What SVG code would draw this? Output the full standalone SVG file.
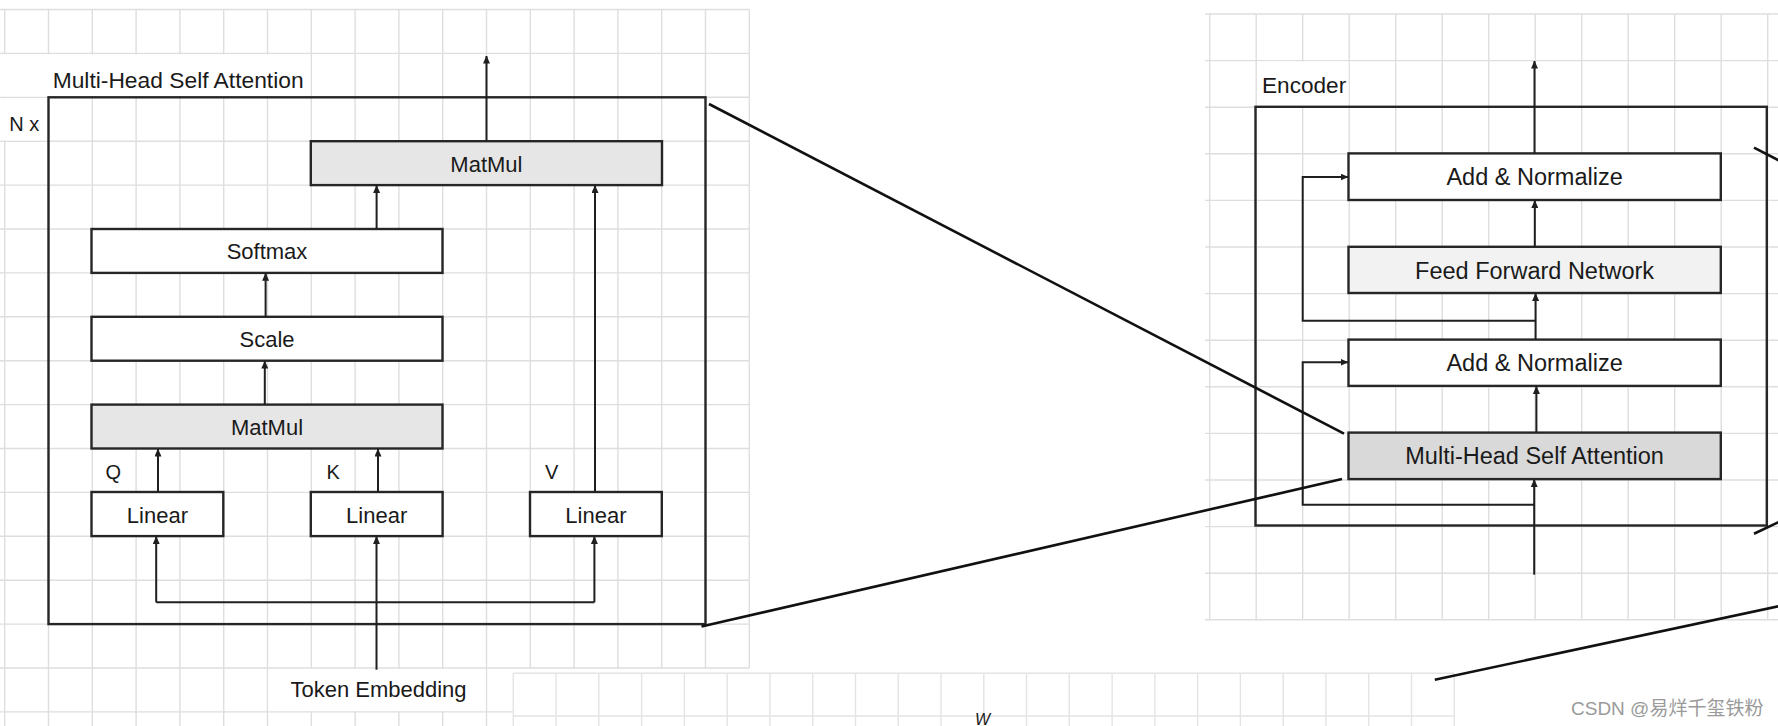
<svg xmlns="http://www.w3.org/2000/svg" width="1778" height="726" viewBox="0 0 1778 726">
<style>
.grid{fill:none;stroke:#dedede;stroke-width:1.4}
.grid2{fill:none;stroke:#e4e4e4;stroke-width:1.4}
.box{stroke:#262626;stroke-width:2.4}
.frame{fill:none;stroke:#262626;stroke-width:2.4}
.conn{fill:none;stroke:#1f1f1f;stroke-width:2}
.diag{fill:none;stroke:#111;stroke-width:2.6}
.t{font-family:"Liberation Sans",Arial,sans-serif;fill:#1a1a1a}
.l22{font-size:22px;text-anchor:middle}
.r23{font-size:23.5px;text-anchor:middle}
.wm{font-family:"Liberation Sans","Noto Sans CJK SC",sans-serif;font-size:19px;fill:#9a9a9a}
</style>
<defs>
<marker id="ah" viewBox="0 0 8 7" refX="7.5" refY="3.5" markerWidth="8" markerHeight="7" markerUnits="userSpaceOnUse" orient="auto">
<path d="M0,0 L8,3.5 L0,7 z" fill="#1f1f1f"/>
</marker>
</defs>
<rect width="1778" height="726" fill="#ffffff"/>

<g id="grid-left" class="grid">
<path d="M4.7,9.5V726M48.5,9.5V726M92.3,9.5V726M136.1,9.5V726M179.9,9.5V726M223.7,9.5V726M267.5,9.5V726M311.3,9.5V726M355.1,9.5V726M398.9,9.5V726M442.7,9.5V726M486.5,9.5V726M530.3,9.5V668M574.1,9.5V668M617.9,9.5V668M661.7,9.5V668M705.5,9.5V668M749.3,9.5V668"/>
<path d="M0,9.5H749.3M0,53.4H749.3M0,97.3H749.3M0,141.2H749.3M0,185.1H749.3M0,229H749.3M0,272.9H749.3M0,316.8H749.3M0,360.7H749.3M0,404.6H749.3M0,448.5H749.3M0,492.4H749.3M0,536.3H749.3M0,580.2H749.3M0,624.1H749.3M0,668H749.3M0,711.9H513.3"/>
</g>
<g id="grid-right" class="grid">
<path d="M1209.7,14V619.8M1256.2,14V619.8M1302.7,14V619.8M1349.2,14V619.8M1395.7,14V619.8M1442.2,14V619.8M1488.7,14V619.8M1535.2,14V619.8M1581.7,14V619.8M1628.2,14V619.8M1674.7,14V619.8M1721.2,14V619.8M1767.7,14V619.8"/>
<path d="M1205,14H1778M1205,60.6H1778M1205,107.2H1778M1205,153.8H1778M1205,200.4H1778M1205,247H1778M1205,293.6H1778M1205,340.2H1778M1205,386.8H1778M1205,433.4H1778M1205,480H1778M1205,526.6H1778M1205,573.2H1778M1205,619.8H1778"/>
</g>
<g id="grid-bottom" class="grid2">
<path d="M513.3,673.3V726M556.1,673.3V726M598.8,673.3V726M641.6,673.3V726M684.4,673.3V726M727.2,673.3V726M769.9,673.3V726M812.7,673.3V726M855.5,673.3V726M898.2,673.3V726M941,673.3V726M983.8,673.3V726M1026.5,673.3V726M1069.3,673.3V726M1112.1,673.3V726M1154.9,673.3V726M1197.6,673.3V726M1240.4,673.3V726M1283.2,673.3V726M1325.9,673.3V726M1368.7,673.3V726M1411.5,673.3V726M1454.2,673.3V726"/>
<path d="M513.3,673.3H1454.2M513.3,716H1454.2"/>
</g>

<g id="label-backgrounds" fill="#ffffff">
<rect x="0" y="54.3" width="310.4" height="42.2"/>
<rect x="0" y="98.2" width="47.3" height="42.2"/>
<rect x="268.4" y="668.9" width="217.3" height="42.2"/>
<rect x="1257" y="61.4" width="91.4" height="45"/>
</g>

<g id="mhsa-frame">
<rect class="frame" x="48.5" y="97.3" width="657" height="526.8"/>
<text class="t" x="52.7" y="87.7" font-size="22.8">Multi-Head Self Attention</text>
<text class="t" x="9.3" y="130.7" font-size="20">N x</text>
</g>

<g id="node-matmul-top">
<rect class="box" x="310.8" y="141.2" width="351.2" height="43.9" fill="#e6e6e6"/>
<text class="t l22" x="486.4" y="171.7">MatMul</text>
</g>
<g id="node-softmax">
<rect class="box" x="91.5" y="229" width="351" height="43.9" fill="#ffffff"/>
<text class="t l22" x="267" y="259.4">Softmax</text>
</g>
<g id="node-scale">
<rect class="box" x="91.5" y="316.8" width="351" height="43.9" fill="#ffffff"/>
<text class="t l22" x="267" y="347.2">Scale</text>
</g>
<g id="node-matmul-bottom">
<rect class="box" x="91.5" y="404.6" width="351" height="43.9" fill="#e6e6e6"/>
<text class="t l22" x="267" y="435">MatMul</text>
</g>
<g id="node-linear-q">
<rect class="box" x="91.5" y="492" width="131.8" height="44.1" fill="#ffffff"/>
<text class="t l22" x="157.4" y="522.5">Linear</text>
</g>
<g id="node-linear-k">
<rect class="box" x="310.8" y="492" width="131.8" height="44.1" fill="#ffffff"/>
<text class="t l22" x="376.7" y="522.5">Linear</text>
</g>
<g id="node-linear-v">
<rect class="box" x="530" y="492" width="131.8" height="44.1" fill="#ffffff"/>
<text class="t l22" x="595.9" y="522.5">Linear</text>
</g>
<g id="qkv-labels">
<text class="t" x="105.5" y="479" font-size="20">Q</text>
<text class="t" x="326.5" y="479" font-size="20">K</text>
<text class="t" x="545" y="479" font-size="20">V</text>
</g>
<g id="node-token-embedding">
<text class="t l22" x="378.5" y="696.5">Token Embedding</text>
</g>

<g id="encoder-frame">
<rect class="frame" x="1255.5" y="106.8" width="511.3" height="418.7"/>
<text class="t" x="1262" y="92.7" font-size="22.6">Encoder</text>
</g>
<g id="node-addnorm-top">
<rect class="box" x="1348.5" y="153.4" width="372.3" height="46.6" fill="#ffffff"/>
<text class="t r23" x="1534.6" y="185.3">Add &amp; Normalize</text>
</g>
<g id="node-ffn">
<rect class="box" x="1348.5" y="246.8" width="372.3" height="46.2" fill="#f2f2f2"/>
<text class="t r23" x="1534.6" y="278.5">Feed Forward Network</text>
</g>
<g id="node-addnorm-bottom">
<rect class="box" x="1348.5" y="339.6" width="372.3" height="46.3" fill="#ffffff"/>
<text class="t r23" x="1534.6" y="371.3">Add &amp; Normalize</text>
</g>
<g id="node-mhsa">
<rect class="box" x="1348.5" y="432.6" width="372.3" height="46.5" fill="#d9d9d9"/>
<text class="t r23" x="1534.6" y="464.4">Multi-Head Self Attention</text>
</g>

<g id="connectors">
<g class="conn" marker-end="url(#ah)">
<path d="M486.5,141.2V56"/>
<path d="M376.6,229V185.5"/>
<path d="M265.6,316.8V273.3"/>
<path d="M264.8,404.6V361.1"/>
<path d="M158,492V449"/>
<path d="M378,492V449"/>
<path d="M595,492V185.5"/>
<path d="M156.2,602.3V536.6"/>
<path d="M594.4,602.3V536.6"/>
<path d="M376.5,669.7V536.6"/>
<path d="M1534.5,153.4V61"/>
<path d="M1534.8,246.8V200.5"/>
<path d="M1535.6,339.6V293.4"/>
<path d="M1536.4,432.6V386.4"/>
<path d="M1534.2,574.7V479.6"/>
<path d="M1535.6,320.7H1302.7V177H1348"/>
<path d="M1534.2,504.7H1302.7V362.3H1348"/>
</g>
<path class="conn" d="M156.2,602.3H594.4"/>
<g class="diag">
<path d="M709,104L1344,433.7"/>
<path d="M701.5,626.5L1342,479"/>
<path d="M1754,147.7L1790,166.2"/>
<path d="M1754,533.7L1790,516.7"/>
<path d="M1434.8,679.7L1790,603.8"/>
</g>
</g>

<text class="t" x="975" y="724.5" font-size="16" font-style="italic" fill="#333333">W</text>
<text class="wm" x="1571" y="714.7">CSDN @易烊千玺铁粉</text>
</svg>
